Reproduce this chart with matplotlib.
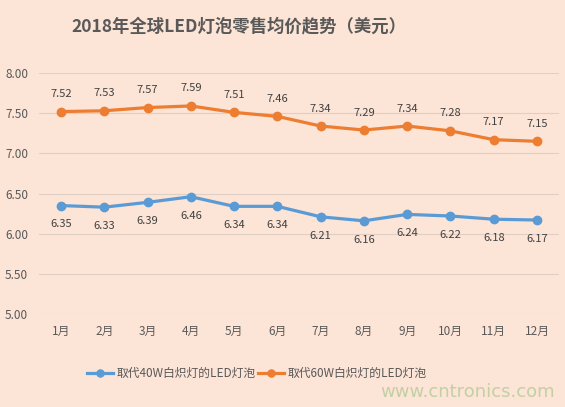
import matplotlib
matplotlib.use("Agg")
import matplotlib.pyplot as plt

plt.rcParams["font.family"] = ["Noto Sans CJK SC", "DejaVu Sans"]

months = ["1月", "2月", "3月", "4月", "5月", "6月", "7月", "8月", "9月", "10月", "11月", "12月"]
led_40w = [6.35, 6.33, 6.39, 6.46, 6.34, 6.34, 6.21, 6.16, 6.24, 6.22, 6.18, 6.17]
led_60w = [7.52, 7.53, 7.57, 7.59, 7.51, 7.46, 7.34, 7.29, 7.34, 7.28, 7.17, 7.15]
series_names = ["取代40W白炽灯的LED灯泡", "取代60W白炽灯的LED灯泡"]
yticks = [5.00, 5.50, 6.00, 6.50, 7.00, 7.50, 8.00]

BG = "#fce4d6"
TXT = "#595959"
BLUE = "#5b9bd5"
ORANGE = "#ed7d31"

fig = plt.figure(figsize=(5.65, 4.07), dpi=100, facecolor=BG)
ax = fig.add_axes([0.0697, 0.2285, 0.919, 0.5921])
ax.set_facecolor(BG)

x = list(range(len(months)))
ax.plot(x, led_40w, color=BLUE, lw=2.3, marker="o", ms=6, label=series_names[0])
ax.plot(x, led_60w, color=ORANGE, lw=2.3, marker="o", ms=6, label=series_names[1])

for xi, v in zip(x, led_40w):
    ax.annotate(f"{v:.2f}", (xi, v), xytext=(0, -10), textcoords="offset points",
                ha="center", va="top", fontsize=8, color="#404040")
for xi, v in zip(x, led_60w):
    ax.annotate(f"{v:.2f}", (xi, v), xytext=(0, 9), textcoords="offset points",
                ha="center", va="bottom", fontsize=8, color="#404040")

ax.set_xlim(-0.5, len(months) - 0.5)
ax.set_ylim(5.0, 8.0)
ax.set_yticks(yticks)
ax.set_yticklabels([f"{t:.2f}" for t in yticks])
ax.set_xticks(x)
ax.set_xticklabels(months)
ax.tick_params(length=0, colors=TXT, labelsize=8.5, pad=8)
ax.grid(axis="y", color="#e0cfc4", lw=0.8)
ax.set_axisbelow(True)
for s in ax.spines.values():
    s.set_visible(False)

fig.text(0.423, 0.934, "2018年全球LED灯泡零售均价趋势（美元）", ha="center", va="center",
         fontsize=12.5, fontweight="bold", color=TXT)

leg = fig.legend(loc="center", bbox_to_anchor=(0.455, 0.083), ncol=2, frameon=False,
                 fontsize=8.5, handlelength=2.2, columnspacing=0.2, handletextpad=0.3,
                 markerscale=0.85)
for t in leg.get_texts():
    t.set_color(TXT)

fig.text(0.827, 0.037, "www.cntronics.com", ha="center", va="center",
         fontsize=13, color="#c2d0a4", family="DejaVu Sans")

fig.savefig("out.png", dpi=100, facecolor=BG)
